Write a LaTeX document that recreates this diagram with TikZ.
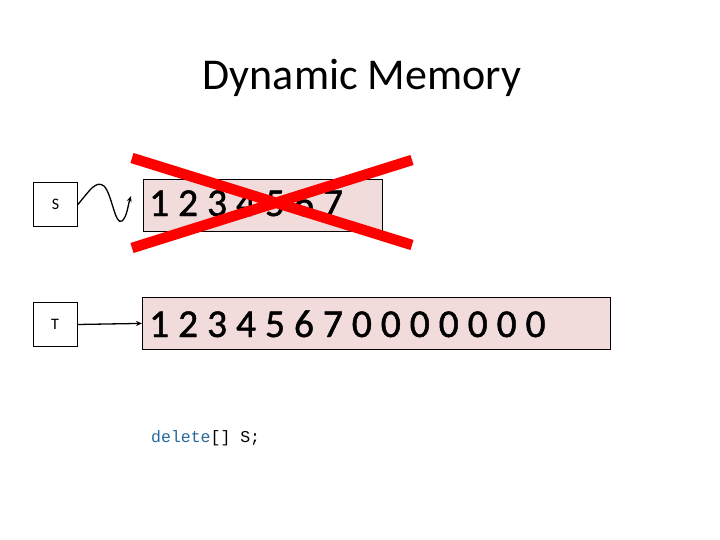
\documentclass[tikz,border=0pt]{standalone}
\usepackage{fontspec}
\setmainfont{Carlito}
\newfontfamily\codefont{Liberation Mono}
\newfontfamily\digitfont[FakeBold=1.2]{Carlito}
\usetikzlibrary{arrows.meta}
\definecolor{cellpink}{RGB}{242,220,219}
\definecolor{xred}{RGB}{255,0,0}
\definecolor{kwblue}{RGB}{40,105,155}
\begin{document}
\begin{tikzpicture}[x=1pt,y=-1pt,
  ptrbox/.style={draw=black,line width=0.8pt,fill=white,minimum width=44pt,minimum height=44pt,inner sep=0pt,font=\fontsize{16}{18}\selectfont},
  arraybox/.style={draw=black,line width=0.8pt,fill=cellpink,inner sep=0pt,anchor=north west},
  digits/.style={anchor=base west,inner sep=0pt,font=\digitfont\fontsize{39.5}{46}\selectfont},
  ptrarrow/.style={line width=1.3pt,-{Stealth[length=6pt,width=5pt]}},
  cross/.style={xred,line width=10.5pt}
]
\useasboundingbox (0,0) rectangle (720,540);
\fill[white] (0,0) rectangle (720,540);
\node[anchor=base,inner sep=0pt,font=\fontsize{44}{52}\selectfont] (title) at (362,90) {Dynamic Memory};

\node[ptrbox] (S) at (55.5,204.5) {S};
\node[ptrbox] (T) at (55,324.5) {T};

\node[arraybox,minimum width=239pt,minimum height=52pt] (Sarr) at (143,179) {};
\node[digits] (Sdig) at (149,216) {1 2 3 4 5 6 7};

\node[arraybox,minimum width=468pt,minimum height=52pt] (Tarr) at (142,297) {};
\node[digits] (Tdig) at (149,337) {1 2 3 4 5 6 7 0 0 0 0 0 0 0};

\coordinate (wtip) at (131,196);
\draw[ptrarrow] (S.east) .. controls (90,190) and (96,180) .. (104,186)
  .. controls (112,194) and (115,226) .. (122,221)
  .. controls (127,217) and (128,205) .. (wtip);

\draw[ptrarrow] (T.east) -- (Tarr.west);

\coordinate (xa1) at (132,158);
\coordinate (xa2) at (412,245);
\coordinate (xb1) at (412,160);
\coordinate (xb2) at (132,248);
\draw[cross] (xa1) -- (xa2);
\draw[cross] (xb1) -- (xb2);

\node[anchor=base west,inner sep=0pt,font=\codefont\fontsize{16.5}{19}\selectfont] (code) at (151,442) {\textcolor{kwblue}{delete}[] S;};
\end{tikzpicture}
\end{document}
